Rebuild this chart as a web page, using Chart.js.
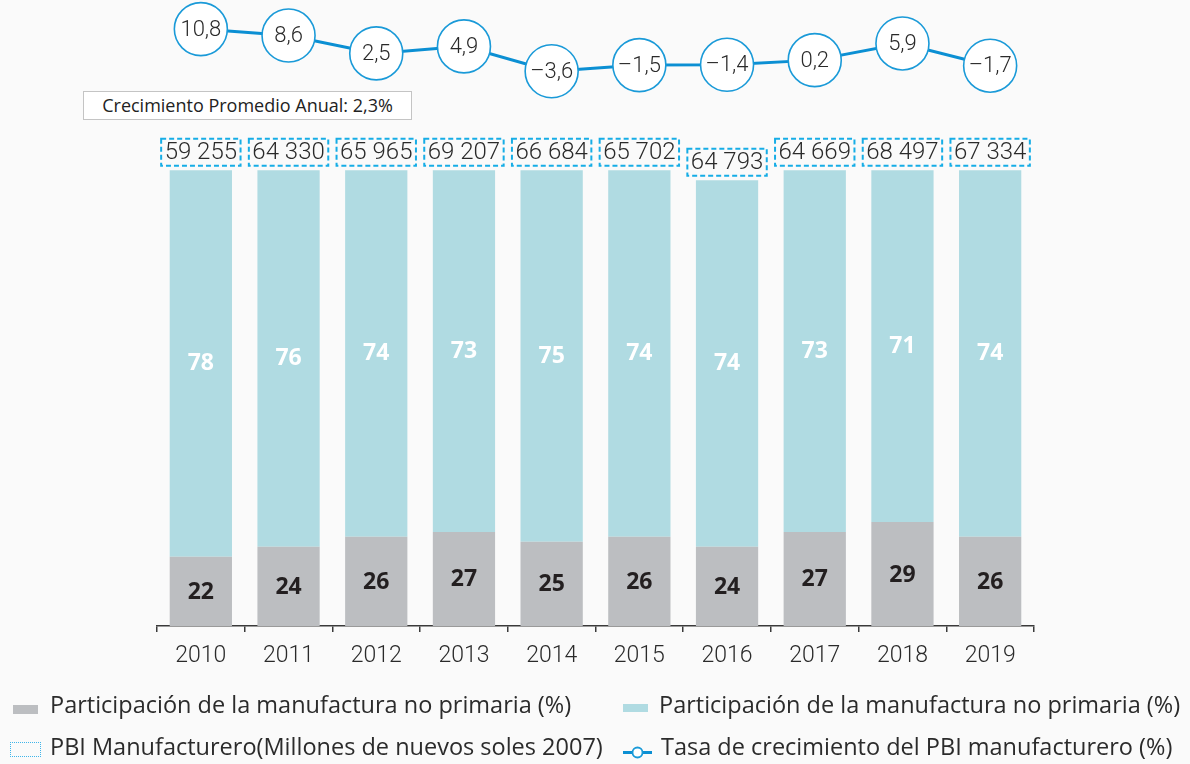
<!DOCTYPE html>
<html>
<head>
<meta charset="utf-8">
<script src="https://cdn.jsdelivr.net/npm/chart.js@4.4.1/dist/chart.umd.min.js"></script>
<style>
  html, body { margin:0; padding:0; background:#fafafa; }
  #wrap { position:relative; width:1190px; height:764px; overflow:hidden; }
  #c { position:absolute; left:0; top:0; }
  .lg { position:absolute; font-family:"Open Sans", sans-serif; font-size:23.5px; line-height:23.5px; color:#2b2b2b; white-space:nowrap; }
  .sw { position:absolute; }
  #avg { position:absolute; left:83px; top:91px; width:327px; height:27px; border:1.5px solid #c4c4c4; background:#fff;
         font-family:"Open Sans", sans-serif; font-weight:500; font-size:18px; line-height:27px; text-align:center; color:#222; }
</style>
</head>
<body>
<div id="wrap">
  <canvas id="c" width="1190" height="764"></canvas>
  <div id="avg">Crecimiento Promedio Anual: 2,3%</div>
  <div class="sw" style="left:13px;top:705px;width:25px;height:9px;background:#bcbec1;"></div>
  <div class="lg" id="l1" style="left:50px;top:693px;"></div>
  <div class="sw" style="left:623px;top:704px;width:25px;height:8px;background:#b0dbe2;"></div>
  <div class="lg" id="l2" style="left:659px;top:693px;"></div>
  <div class="sw" style="left:10px;top:742px;width:29px;height:13px;border:1px dotted #3fb5ea;"></div>
  <div class="lg" id="l3" style="left:50px;top:735px;"></div>
  <svg class="sw" style="left:622px;top:745px;" width="31" height="15">
    <line x1="1" y1="7.5" x2="30" y2="7.5" stroke="#0b8fd3" stroke-width="3"/>
    <circle cx="15.5" cy="7.5" r="5" fill="#fff" stroke="#1a9ad8" stroke-width="1.8"/>
  </svg>
  <div class="lg" id="l4" style="left:661px;top:735px;"></div>
</div>
<script>
// ---- data ----
const years = ['2010','2011','2012','2013','2014','2015','2016','2017','2018','2019'];
const noPrimariaGris = [22, 24, 26, 27, 25, 26, 24, 27, 29, 26];
const noPrimariaCeleste = [78, 76, 74, 73, 75, 74, 74, 73, 71, 74];
const pbiManufacturero = [59255, 64330, 65965, 69207, 66684, 65702, 64793, 64669, 68497, 67334];
const tasaCrecimiento = [10.8, 8.6, 2.5, 4.9, -3.6, -1.5, -1.4, 0.2, 5.9, -1.7];
const seriesNames = [
  'Participación de la manufactura no primaria (%)',
  'Participación de la manufactura no primaria (%)',
  'PBI Manufacturero(Millones de nuevos soles 2007)',
  'Tasa de crecimiento del PBI manufacturero (%)'
];

document.getElementById('l1').textContent = seriesNames[0];
document.getElementById('l2').textContent = seriesNames[1];
document.getElementById('l3').textContent = seriesNames[2];
document.getElementById('l4').textContent = seriesNames[3];

function fmtPbi(v){ return String(v).replace(/\B(?=(\d{3})+(?!\d))/g, ' '); }
function fmtTasa(v){ const s = Math.abs(v).toFixed(1).replace('.', ','); return v < 0 ? '–' + s : s; }

const labelsPlugin = {
  id: 'customLabels',
  afterDatasetsDraw(chart) {
    const ctx = chart.ctx;
    const grey = chart.getDatasetMeta(0), teal = chart.getDatasetMeta(1), line = chart.getDatasetMeta(2);
    ctx.save();
    ctx.textAlign = 'center';
    ctx.textBaseline = 'middle';
    grey.data.forEach((bar, i) => {
      ctx.font = '700 23px "Open Sans"';
      ctx.fillStyle = '#231f20';
      ctx.fillText(String(noPrimariaGris[i]), bar.x, (bar.y + Math.min(bar.base, chart.chartArea.bottom)) / 2 + 1);
    });
    teal.data.forEach((bar, i) => {
      ctx.font = '700 23px "Open Sans"';
      ctx.fillStyle = '#ffffff';
      ctx.fillText(String(noPrimariaCeleste[i]), bar.x, (bar.y + bar.base) / 2);
      const txt = fmtPbi(pbiManufacturero[i]);
      ctx.font = '300 24px Roboto';
      const w = ctx.measureText(txt).width + 7;
      const h = 27;
      const bottom = bar.y - 4.5;
      ctx.setLineDash([5, 3]);
      ctx.strokeStyle = '#16ade6';
      ctx.lineWidth = 2;
      ctx.strokeRect(bar.x - w / 2, bottom - h, w, h);
      ctx.setLineDash([]);
      ctx.fillStyle = '#2a2a2a';
      ctx.fillText(txt, bar.x, bottom - h / 2 + 1);
    });
    line.data.forEach((pt, i) => {
      ctx.font = '300 22px Roboto';
      ctx.fillStyle = '#2a2a2a';
      ctx.fillText(fmtTasa(tasaCrecimiento[i]), pt.x, pt.y + 1);
    });
    ctx.restore();
  }
};

new Chart(document.getElementById('c'), {
  type: 'bar',
  data: {
    labels: years,
    datasets: [
      { label: seriesNames[0], data: noPrimariaGris, backgroundColor: '#bcbec1', yAxisID: 'y', stack: 's', order: 2, clip: 0,
        barPercentage: 0.71, categoryPercentage: 1 },
      { label: seriesNames[1], data: noPrimariaCeleste, backgroundColor: '#b0dbe2', yAxisID: 'y', stack: 's', order: 2, clip: 0,
        barPercentage: 0.71, categoryPercentage: 1 },
      { type: 'line', label: seriesNames[3], data: tasaCrecimiento, yAxisID: 'y2', order: 0, clip: false,
        borderColor: '#0b8fd3', borderWidth: 3, tension: 0,
        pointRadius: 26.5, pointHoverRadius: 26.5, pointBackgroundColor: '#ffffff', pointBorderColor: '#1a9ad8', pointBorderWidth: 1.6 }
    ]
  },
  options: {
    responsive: false,
    animation: false,
    events: [],
    layout: { autoPadding: false, padding: { left: 157, right: 156, top: 0, bottom: 84.4 } },
    plugins: { legend: { display: false }, tooltip: { enabled: false } },
    scales: {
      x: {
        stacked: true,
        offset: true,
        grid: { display: true, offset: true, drawOnChartArea: false, drawTicks: true, tickLength: 6, color: '#3a3a3a', lineWidth: 1.5 },
        border: { display: true, color: '#3a3a3a', width: 1.5 },
        ticks: { color: '#2a2a2a', font: { family: 'Roboto', size: 23, weight: 300 }, padding: 10, maxRotation: 0 }
      },
      y: { display: false, stacked: true, min: 8, max: 134.4 },
      y2: { display: false, min: -193.2, max: 20.75 }
    }
  },
  plugins: [labelsPlugin]
});
</script>
</body>
</html>
